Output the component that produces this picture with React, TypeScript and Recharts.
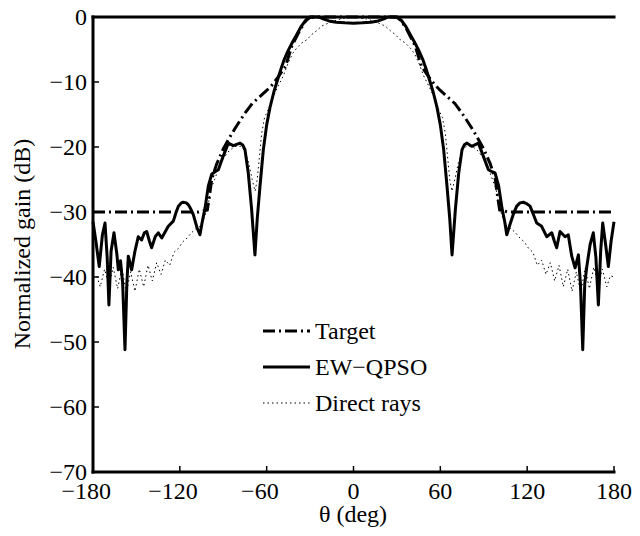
import { LineChart, Line, XAxis, YAxis, Legend } from 'recharts'

const xTicks = [-180, -120, -60, 0, 60, 120, 180]
const yTicks = [-70, -60, -50, -40, -30, -20, -10, 0]

// target mask (dash-dot)
const targetDeg = [
  -180, -107, -101, -99.5, -98, -96, -94.5, -90, -85, -82, -78, -75, -70, -65, -60, -56, -52, -47, -42.5, -37, -33, -30,
  30, 33, 37, 42.5, 47, 52, 56, 60, 65, 70, 75, 78, 82, 85, 90, 94.5, 96, 98, 99.5, 101, 107, 180,
]
const targetDb = [
  -30, -30, -29.7, -27.5, -25, -23.6, -22.6, -20.3, -18.3, -17.2, -15.8, -14.8, -13.3, -12.3, -11.3, -10.4, -9.2, -7.6, -4.4, -2, -0.6, 0,
  0, -0.6, -2, -4.4, -7.6, -9.2, -10.4, -11.3, -12.3, -13.3, -14.8, -15.8, -17.2, -18.3, -20.3, -22.6, -23.6, -25, -27.5, -29.7, -30, -30,
]

// EW-QPSO synthesized pattern
const ewDeg = [
  -180, -178, -175.7, -173.5, -171.7, -170.2, -169, -167.5, -165.5, -163.5, -162.5, -161, -159.5, -157.9, -156.6, -155.6,
  -153.3, -151, -148.7, -146.4, -144.5, -142.9, -141, -139.5, -137, -134.9, -132.5, -130, -128, -124.5, -122.5, -121,
  -119, -117.6, -115.5, -114.1, -112.5, -110.7, -108, -106.1, -104.5, -102.6, -100.3, -98, -95.7, -93.4, -90, -86.5,
  -83.1, -78.4, -76.5, -75, -72.7, -70.4, -68.1, -66.5, -64.6, -62.3, -60, -57.7, -55, -52, -50, -48, -45, -42, -39,
  -36, -33, -30, -27, -24, -21, -17, -12, -6, 0, 6, 12, 17, 21, 24, 27, 30, 33, 36, 39, 42, 45, 48, 50, 52, 55, 57.7,
  60, 62.3, 64.6, 66.5, 68.1, 70.4, 72.7, 75, 76.5, 78.2, 81.7, 86.3, 89.7, 93.2, 95.7, 97.8, 100.3, 102.6, 104.5,
  105.9, 108, 110.5, 112.8, 115, 117.4, 119.5, 122, 124.5, 126.6, 130, 133.5, 137, 138.8, 140.4, 142.7, 146.2, 148.4,
  150.8, 153.1, 155.4, 156.8, 158.4, 159.8, 161.2, 163.5, 165.7, 167.5, 169.2, 170.8, 172.2, 174.2, 176.1, 178, 180,
]
const ewDb = [
  -31.5, -34.5, -38.4, -33.5, -31.7, -37, -44.3, -36, -33.2, -36.5, -38.9, -37.5, -41, -51.2, -41, -36.8,
  -38.9, -36, -33.8, -34.3, -33.2, -33, -34.5, -35.5, -33.8, -33.2, -34, -33, -32.2, -31.4, -30, -29.1,
  -28.6, -28.5, -28.6, -28.9, -29.5, -30.4, -32.5, -33.5, -31.5, -29.4, -26, -24.2, -23.8, -23.5, -21.4, -19.4,
  -19.8, -19.4, -19.7, -20.4, -24, -29.6, -36.6, -31, -26, -20.4, -16.6, -13.9, -11.5, -9.3, -7.9, -6.6, -5.1, -3.8, -2.6,
  -1.4, -0.5, -0.05, 0, 0, -0.3, -0.6, -0.8, -0.9, -0.95, -0.9, -0.8, -0.6, -0.3, 0, 0, -0.05, -0.5, -1.4, -2.6, -3.8, -5.1, -6.6, -7.9, -9.3, -11.5, -13.9,
  -16.6, -20.4, -26, -31, -36.6, -29.6, -24, -20.4, -19.7, -19.4, -19.9, -19.4, -21.4, -23.5, -23.8, -24, -26, -29.4, -31.5,
  -33.5, -32, -30.3, -29.1, -28.6, -28.5, -28.7, -29.1, -30.5, -31.7, -32.2, -33.8, -33.2, -34.5, -35.5, -33, -33.8, -33.5,
  -36.8, -38.6, -36.6, -41, -51.2, -41, -38.4, -35, -33.2, -37, -44.3, -36, -31.7, -35, -38.4, -34.5, -31.5,
]

// direct rays pattern (dotted)
const directDeg = [
  -180, -177.5, -175, -172, -169, -166, -163, -160, -157, -154, -151, -148, -145, -142, -139, -136, -133, -130, -127,
  -124, -121, -118, -115, -112, -109, -106, -103, -100.5, -98.5, -96, -93, -90, -86, -82, -78, -75, -72.5, -70, -68,
  -66.5, -65, -63.5, -61.5, -59, -57.7, -55.4, -52, -48.6, -45, -42, -39.3, -35.8, -32.3, -28.9, -25.4, -22, -16, -9, 0,
  9, 16, 22, 25.4, 28.9, 32.3, 35.8, 39.3, 42, 45, 48.6, 52, 55.4, 57.7, 59, 61.5, 63.5, 65, 66.5, 68, 70, 72.5, 75, 78,
  82, 86, 90, 93, 96, 98.5, 100.5, 103, 106, 109, 112, 115, 118, 121, 124, 127, 130, 133, 136, 139, 142, 145, 148, 151,
  154, 157, 160, 163, 166, 169, 172, 175, 177.5, 180,
]
const directDb = [
  -40, -39.8, -41.5, -38.8, -41.2, -38.5, -41.8, -38.6, -42.5, -39.2, -42.2, -38.8, -41.5, -38.2, -40.6, -37.8, -39.6, -37.4, -38.2,
  -36.2, -35.6, -34.6, -34, -33.2, -32.6, -32.2, -30.8, -29, -26.5, -25, -23.2, -21.8, -20.6, -19.9, -19.9, -20.6, -22.4, -25, -26.8,
  -25, -21.5, -18, -15.5, -14.3, -13.7, -12.2, -10.6, -9.1, -7, -5.6, -4.8, -4, -3.5, -2.7, -2.1, -1.4, -0.8, -0.3, 0,
  -0.3, -0.8, -1.4, -2.1, -2.7, -3.5, -4, -4.8, -5.6, -7, -9.1, -10.6, -12.2, -13.7, -14.3, -15.5, -18, -21.5, -25, -26.8, -25, -22.4, -20.6, -19.9,
  -19.9, -20.6, -21.8, -23.2, -25, -26.5, -29, -30.8, -32.2, -32.6, -33.2, -34, -34.6, -35.6, -36.2, -38.2, -37.4, -39.6, -37.8, -40.6, -38.2, -41.5, -38.8, -42.2,
  -39.2, -42.5, -38.6, -41.8, -38.5, -41.2, -38.8, -41.5, -39.8, -40,
]

const toPoints = (xs: number[], ys: number[]) => xs.map((x, i) => ({ x, y: ys[i] }))

const FONT = '"Liberation Serif", "Times New Roman", serif'
const MINUS = '\u2212'

function BottomTick({ x, y, payload }: any) {
  const v = payload.value as number
  const digits = String(Math.abs(v))
  return (
    <g>
      <line x1={x} x2={x} y1={y} y2={y - 6} stroke="#000" strokeWidth={1.5} />
      <text x={x} y={y + 27} textAnchor="middle" fontSize={24} fontFamily={FONT} fill="#000">
        {digits}
      </text>
      {v < 0 && (
        <text x={x - digits.length * 6} y={y + 27} textAnchor="end" fontSize={24} fontFamily={FONT} fill="#000">
          {MINUS}
        </text>
      )}
    </g>
  )
}

function TopTick({ x, y }: any) {
  return <line x1={x} x2={x} y1={y} y2={y + 6} stroke="#000" strokeWidth={1.5} />
}

function LeftTick({ x, y, payload }: any) {
  const v = payload.value as number
  return (
    <g>
      <line x1={x} x2={x + 6} y1={y} y2={y} stroke="#000" strokeWidth={1.5} />
      <text x={x - 6} y={y + 8} textAnchor="end" fontSize={24} fontFamily={FONT} fill="#000">
        {v < 0 ? MINUS + Math.abs(v) : String(v)}
      </text>
    </g>
  )
}

function RightTick({ x, y }: any) {
  return <line x1={x} x2={x - 6} y1={y} y2={y} stroke="#000" strokeWidth={1.5} />
}

function YLabel() {
  return (
    <text transform="translate(30,244) rotate(-90)" textAnchor="middle" fontSize={24} fontFamily={FONT} fill="#000">
      Normalized gain (dB)
    </text>
  )
}

function XLabel() {
  return (
    <text x={353} y={522} textAnchor="middle" fontSize={24} fontFamily={FONT} fill="#000">
      θ (deg)
    </text>
  )
}

const legendRows = [
  { label: 'Target', width: 3, dash: '12 4 2 4' },
  { label: 'EW' + MINUS + 'QPSO', width: 3, dash: undefined },
  { label: 'Direct rays', width: 1, dash: '1.5 3' },
]

function LegendBox() {
  return (
    <div style={{ fontFamily: FONT, fontSize: 24, color: '#000' }}>
      {legendRows.map((r) => (
        <div key={r.label} style={{ display: 'flex', alignItems: 'center', height: 36 }}>
          <svg width={52} height={10} style={{ flex: 'none' }}>
            <line x1={0} x2={47} y1={5} y2={5} stroke="#000" strokeWidth={r.width} strokeDasharray={r.dash} />
          </svg>
          <span style={{ lineHeight: '36px', whiteSpace: 'nowrap' }}>{r.label}</span>
        </div>
      ))}
    </div>
  )
}

const axisLine = { stroke: '#000', strokeWidth: 3, strokeLinecap: 'square' as const }

export default function App() {
  return (
    <div style={{ position: 'absolute', left: 0, top: 0, width: 640, height: 536, background: '#fff' }}>
      <LineChart width={640} height={536} margin={{ top: 16, right: 26, bottom: 0, left: 0 }}>
        <XAxis
          xAxisId={0}
          dataKey="x"
          type="number"
          domain={[-180, 180]}
          ticks={xTicks}
          interval={0}
          height={64}
          axisLine={axisLine}
          tickLine={false}
          tickSize={0}
          tickMargin={0}
          tick={(p: any) => <BottomTick {...p} />}
          label={<XLabel />}
        />
        <XAxis
          xAxisId="top"
          orientation="top"
          dataKey="x"
          type="number"
          domain={[-180, 180]}
          ticks={xTicks}
          interval={0}
          height={1}
          axisLine={axisLine}
          tickLine={false}
          tickSize={0}
          tickMargin={0}
          tick={(p: any) => <TopTick {...p} />}
        />
        <YAxis
          yAxisId={0}
          type="number"
          domain={[-70, 0]}
          ticks={yTicks}
          interval={0}
          width={93}
          axisLine={axisLine}
          tickLine={false}
          tickSize={0}
          tickMargin={0}
          tick={(p: any) => <LeftTick {...p} />}
          label={<YLabel />}
        />
        <YAxis
          yAxisId="right"
          orientation="right"
          type="number"
          domain={[-70, 0]}
          ticks={yTicks}
          interval={0}
          width={0}
          axisLine={axisLine}
          tickLine={false}
          tickSize={0}
          tickMargin={0}
          tick={(p: any) => <RightTick {...p} />}
        />
        <Legend
          layout="vertical"
          verticalAlign="middle"
          align="center"
          content={() => <LegendBox />}
          wrapperStyle={{ left: 263, top: 313, width: 240, height: 110 }}
        />
        <Line
          data={toPoints(directDeg, directDb)}
          dataKey="y"
          name="Direct rays"
          type="linear"
          stroke="#000"
          strokeWidth={1}
          strokeDasharray="1.5 3"
          dot={false}
          isAnimationActive={false}
        />
        <Line
          data={toPoints(targetDeg, targetDb)}
          dataKey="y"
          name="Target"
          type="linear"
          stroke="#000"
          strokeWidth={3}
          strokeDasharray="12 4 2 4"
          dot={false}
          isAnimationActive={false}
        />
        <Line
          data={toPoints(ewDeg, ewDb)}
          dataKey="y"
          name="EW-QPSO"
          type="linear"
          stroke="#000"
          strokeWidth={3}
          strokeLinejoin="round"
          dot={false}
          isAnimationActive={false}
        />
      </LineChart>
    </div>
  )
}
